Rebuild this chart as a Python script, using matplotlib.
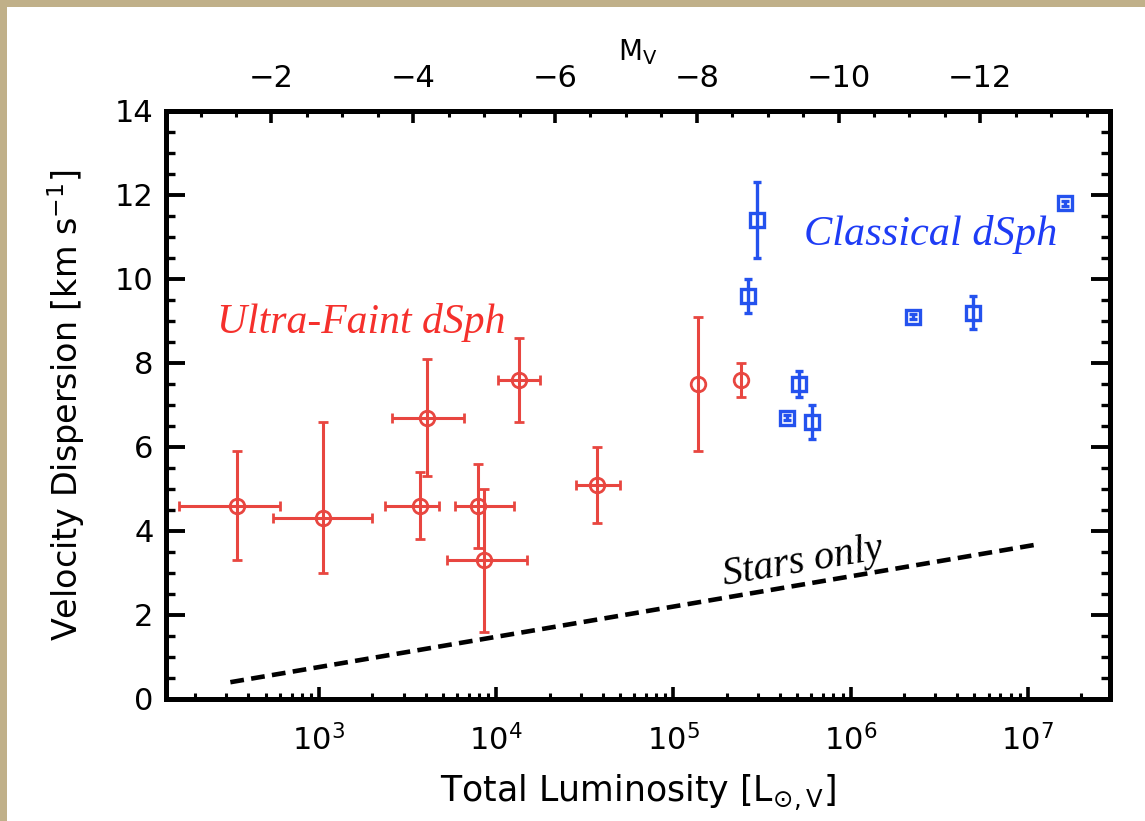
import numpy as np
import matplotlib
matplotlib.use('Agg')
import matplotlib.pyplot as plt
from matplotlib.ticker import LogLocator, NullFormatter, MultipleLocator
from matplotlib.patches import Rectangle

plt.rcParams['font.family'] = ['DejaVu Sans']
plt.rcParams['mathtext.fontset'] = 'dejavusans'

# ultra-faint dwarfs: log10 luminosity (with dex errors) and velocity dispersion
uf_logL = [2.54, 3.02, 3.61, 4.13, 3.57, 3.90, 3.93, 4.57, 5.14, 5.38]
uf_logL_lo = [0.33, 0.28, 0.20, 0.12, 0.20, 0.13, 0.21, 0.12, 0.0, 0.0]
uf_logL_hi = [0.24, 0.28, 0.21, 0.12, 0.11, 0.20, 0.245, 0.13, 0.0, 0.0]
uf_sigma = [4.6, 4.3, 6.7, 7.6, 4.6, 4.6, 3.3, 5.1, 7.5, 7.6]
uf_sig_lo = [1.3, 1.3, 1.4, 1.0, 0.8, 1.0, 1.7, 0.9, 1.6, 0.4]
uf_sig_hi = [1.3, 2.3, 1.4, 1.0, 0.8, 1.0, 1.7, 0.9, 1.6, 0.4]

# classical dwarfs
cl_logL = [5.47, 5.42, 5.71, 5.64, 5.78, 6.35, 6.69, 7.21]
cl_sigma = [11.4, 9.6, 7.5, 6.7, 6.6, 9.1, 9.2, 11.8]
cl_sig_err = [0.9, 0.4, 0.3, 0.06, 0.4, 0.06, 0.4, 0.06]

# stellar-mass-only expectation
stars_logL = [2.50, 7.04]
stars_sigma = [0.40, 3.67]

mv_ticks = [-2, -4, -6, -8, -10, -12]
mv_minor = np.arange(-0.5, -14.0, -0.5)
M_SUN_V = 4.83

red = '#e84640'
red_txt = '#f5302c'
blue = '#2452ee'
blue_txt = '#1e3cf5'


def m2l(M):
    return 10 ** ((M_SUN_V - np.asarray(M, dtype=float)) / 2.5)


fig = plt.figure(figsize=(11.45, 8.21), dpi=100)
fig.patch.set_facecolor('#c0b089')
fig.patches.append(Rectangle((7 / 1145, 0), 1, 1 - 7 / 821,
                             transform=fig.transFigure, facecolor='white',
                             edgecolor='none', zorder=-10))

ax = fig.add_axes([0.145, 0.1486, 0.8245, 0.7162])
ax.set_xscale('log')

uf_L = 10 ** np.array(uf_logL)
uf_xerr = [uf_L - 10 ** (np.array(uf_logL) - uf_logL_lo),
           10 ** (np.array(uf_logL) + uf_logL_hi) - uf_L]
ax.errorbar(uf_L, uf_sigma, xerr=uf_xerr, yerr=[uf_sig_lo, uf_sig_hi],
            fmt='o', ms=10.5, mfc='none', mec=red, mew=2, ecolor=red,
            elinewidth=2.2, capsize=3.5, capthick=2.2, zorder=3)

cl_L = 10 ** np.array(cl_logL)
ax.errorbar(cl_L, cl_sigma, yerr=cl_sig_err,
            fmt='s', ms=10, mfc='none', mec=blue, mew=2.4, ecolor=blue,
            elinewidth=2.4, capsize=3, capthick=2.4, zorder=3)

ax.plot(10 ** np.array(stars_logL), stars_sigma, color='black', lw=3.3,
        linestyle=(0, (3.0, 1.6)), dash_capstyle='butt')

ax.text(10 ** 3.237, 8.71, 'Ultra-Faint dSph', color=red_txt, fontsize=30,
        family='Liberation Serif', style='italic', ha='center', va='baseline')
ax.text(10 ** 6.454, 10.81, 'Classical dSph', color=blue_txt, fontsize=30.5,
        family='Liberation Serif', style='italic', ha='center', va='baseline')
ax.text(10 ** 5.731, 3.25, 'Stars only', color='black', fontsize=29,
        family='Liberation Serif', style='italic', ha='center', va='center',
        rotation=9.5, rotation_mode='anchor')

xlim = (10 ** 2.137, 10 ** 7.464)
ax.set_xlim(xlim)
ax.set_ylim(0, 14)

ax.xaxis.set_major_locator(LogLocator(base=10, numticks=12))
ax.xaxis.set_minor_locator(LogLocator(base=10, subs=np.arange(2, 10), numticks=12))
ax.xaxis.set_minor_formatter(NullFormatter())
ax.yaxis.set_major_locator(MultipleLocator(2))
ax.yaxis.set_minor_locator(MultipleLocator(0.5))

ax.tick_params(axis='x', which='major', direction='in', top=False, bottom=True,
               length=8.5, width=2.6, labelsize=22, pad=18)
ax.tick_params(axis='x', which='minor', direction='in', top=False, bottom=True,
               length=4.2, width=2.2)
ax.tick_params(axis='y', which='major', direction='in', left=True, right=True,
               length=13.5, width=2.8, labelsize=22, pad=9)
ax.tick_params(axis='y', which='minor', direction='in', left=True, right=True,
               length=6.8, width=2.4)

for sp in ax.spines.values():
    sp.set_linewidth(3.6)

ax.set_xlabel(r'Total Luminosity [L$_{\odot,\mathrm{V}}$]', fontsize=25, labelpad=12)
ax.set_ylabel(r'Velocity Dispersion [km s$^{-1}$]', fontsize=24, labelpad=20)

# absolute magnitude scale along the top edge
top = ax.twiny()
top.set_xscale('log')
top.set_xlim(xlim)
top.set_xticks(m2l(mv_ticks))
top.set_xticklabels(['\u2212%d' % abs(m) for m in mv_ticks])
top.set_xticks(m2l(mv_minor[(m2l(mv_minor) > xlim[0]) & (m2l(mv_minor) < xlim[1])]),
               minor=True)
top.xaxis.set_minor_formatter(NullFormatter())
top.tick_params(axis='x', which='major', direction='in', length=8.5,
                width=2.6, labelsize=22, pad=13)
top.tick_params(axis='x', which='minor', direction='in', length=4.2, width=2.2)
for sp in top.spines.values():
    sp.set_linewidth(3.6)
top.set_xlabel(r'M$_\mathrm{V}$', fontsize=20, labelpad=3)

fig.savefig('out.png', dpi=100, facecolor=fig.get_facecolor())
